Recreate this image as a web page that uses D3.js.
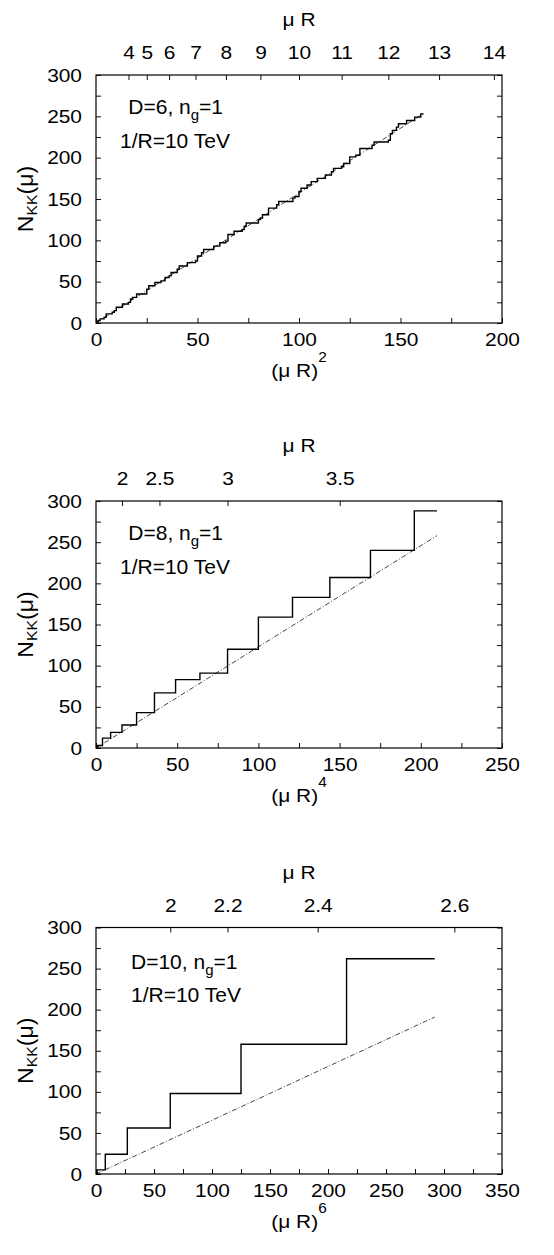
<!DOCTYPE html>
<html><head><meta charset="utf-8">
<script src="https://cdn.jsdelivr.net/npm/d3@7"></script>
<style>
body{margin:0;background:#fff}
svg text{font-family:"Liberation Sans",Arial,Helvetica,sans-serif;fill:#000}
</style></head><body>
<svg id="c" width="554" height="1255"></svg>
<script>
// ---------- DATA ----------
// D=6 panel: x=(mu R)^2, N_KK staircase
const d6StepX=[0,1,2,4,5,8,9,10,13,16,17,18,20,25,26,29,32,34,36,37,40,41,45,49,50,52,53,58,61,64,65,68,72,73,74,80,81,82,85,89,90,97,98,100,101,104,106,109,113,116,117,121,122,125,128,130,136,137,144,145,146,148,149,153,157,160,161.4];
const d6StepN=[1,3,5,7,11,13,15,19,23,25,29,31,35,41,45,49,51,55,57,61,65,69,73,75,81,85,89,93,97,99,107,111,113,117,121,125,127,131,139,143,147,151,153,159,163,167,171,175,179,183,187,189,193,201,203,211,215,219,221,229,233,237,241,245,249,253,253];
const d6LineX=[0,161.4];
const d6LineN=[0,253.5];
// D=8 panel: x=(mu R)^4
const d8StepX=[0,1,4,9,16,25,36,49,64,81,100,121,144,169,196,210];
const d8StepN=[1,3,12,19,28,43,67,83,91,120,159,183,207,240,288,288];
const d8LineX=[0,210];
const d8LineN=[0,258];
// D=10 panel: x=(mu R)^6
const d10StepX=[0,1,8,27,64,125,216,292];
const d10StepN=[1,5,24,56,98,158,262,262];
const d10LineX=[0,292];
const d10LineN=[0,191];
// tick labels
const muTicks6=[4,5,6,7,8,9,10,11,12,13,14];
const muTicks8=[2,2.5,3,3.5];
const muTicks10=[2,2.2,2.4,2.6];
const xLabels6=[0,50,100,150,200];
const xLabels8=[0,50,100,150,200,250];
const xLabels10=[0,50,100,150,200,250,300,350];
const yLabels=[0,50,100,150,200,250,300];
const dimsD=[6,8,10];
const powers=[2,4,6];
const ngVal=1;
const invR="10 TeV";

// ---------- LAYOUT ----------
const FONT='"Liberation Sans",Arial,Helvetica,sans-serif';
const SX=1.1; // horizontal stretch of axis fonts
const L=96,R=502;
const svg=d3.select("#c");
const layout=[
 {top:75,h:248,l1x:128.3,l2x:120,l1y:38.5,l2y:73.3},
 {top:501,h:247,l1x:128.3,l2x:120,l1y:39,l2y:73},
 {top:927.5,h:246.5,l1x:131,l2x:131,l1y:41.5,l2y:74.2}
];
const series=[
 {xMax:200,stepX:d6StepX,stepN:d6StepN,lineX:d6LineX,lineN:d6LineN,mu:muTicks6,xl:xLabels6},
 {xMax:250,stepX:d8StepX,stepN:d8StepN,lineX:d8LineX,lineN:d8LineN,mu:muTicks8,xl:xLabels8},
 {xMax:350,stepX:d10StepX,stepN:d10StepN,lineX:d10LineX,lineN:d10LineN,mu:muTicks10,xl:xLabels10}
];

function styleAxis(a){
  a.attr("font-size",19).attr("font-family",FONT);
  a.select(".domain").remove();
  a.selectAll(".tick line").attr("stroke","#111").attr("stroke-width",1);
  a.selectAll(".tick text").each(function(){
    const t=d3.select(this); const x=+t.attr("x")||0;
    t.attr("x",x/SX).attr("transform",`scale(${SX},1)`);
  });
}

series.forEach((s,i)=>{
  const lay=layout[i], p=powers[i];
  const top=lay.top, bot=lay.top+lay.h;
  const g=svg.append("g");
  const x=d3.scaleLinear().domain([0,s.xMax]).range([L,R]);
  const y=d3.scaleLinear().domain([0,300]).range([bot,top]);
  const mu=d3.scalePow().exponent(p).domain([0,Math.pow(s.xMax,1/p)]).range([L,R]);

  // smooth (dash-dot) curve
  const lineData=s.lineX.map((v,k)=>[v,s.lineN[k]]);
  g.append("path").datum(lineData)
    .attr("d",d3.line().x(d=>x(d[0])).y(d=>y(d[1])))
    .attr("fill","none").attr("stroke","#444").attr("stroke-width",1)
    .attr("stroke-dasharray","5,2,1,2");
  // staircase
  const stepData=s.stepX.map((v,k)=>[v,s.stepN[k]]);
  g.append("path").datum(stepData)
    .attr("d",d3.line().curve(d3.curveStepAfter).x(d=>x(d[0])).y(d=>y(d[1])))
    .attr("fill","none").attr("stroke","#000").attr("stroke-width",1.4);

  // axes
  const minorX=d3.range(0,s.xMax+1,25);
  const ab=g.append("g").attr("transform",`translate(0,${bot})`)
    .call(d3.axisBottom(x).tickValues(minorX).tickSize(-5).tickSizeOuter(0).tickPadding(10)
      .tickFormat(d=>s.xl.includes(d)?d:""));
  styleAxis(ab);
  const minorY=d3.range(0,301,25);
  const al=g.append("g").attr("transform",`translate(${L},0)`)
    .call(d3.axisLeft(y).tickValues(minorY).tickSize(-5).tickSizeOuter(0).tickPadding(14)
      .tickFormat(d=>yLabels.includes(d)?d:""));
  styleAxis(al);
  const ar=g.append("g").attr("transform",`translate(${R},0)`)
    .call(d3.axisRight(y).tickValues(minorY).tickSize(-5).tickSizeOuter(0).tickFormat(""));
  styleAxis(ar);
  const at=g.append("g").attr("transform",`translate(0,${top})`)
    .call(d3.axisTop(mu).tickValues(s.mu).tickSize(-5).tickSizeOuter(0).tickPadding(16)
      .tickFormat(d=>String(d)));
  styleAxis(at);

  // frame
  g.append("rect").attr("x",L).attr("y",top).attr("width",R-L).attr("height",bot-top)
    .attr("fill","none").attr("stroke","#000").attr("stroke-width",1.2);

  // top title
  g.append("text").attr("transform",`translate(${(L+R)/2},${top-49}) scale(${SX},1)`)
    .attr("text-anchor","middle").attr("font-size",19).text("\u03bc R");
  // bottom title
  const xt=g.append("text").attr("transform",`translate(${(L+R)/2},${bot+54}) scale(${SX},1)`)
    .attr("text-anchor","middle").attr("font-size",19);
  xt.append("tspan").text("(\u03bc R)");
  xt.append("tspan").attr("font-size",14).attr("dy",-15).text(String(p));
  // y title
  const yt=g.append("text").attr("transform",`translate(33,${(top+bot)/2}) rotate(-90) scale(1.05,1)`)
    .attr("text-anchor","middle").attr("font-size",22);
  yt.append("tspan").text("N");
  yt.append("tspan").attr("font-size",15).attr("dy",4).text("KK");
  yt.append("tspan").attr("dy",-4).text("(\u03bc)");
  // annotations
  const t1=g.append("text").attr("x",lay.l1x).attr("y",top+lay.l1y).attr("font-size",21);
  t1.append("tspan").text(`D=${dimsD[i]}, n`);
  t1.append("tspan").attr("font-size",15).attr("dy",6).text("g");
  t1.append("tspan").attr("dy",-6).text(`=${ngVal}`);
  g.append("text").attr("x",lay.l2x).attr("y",top+lay.l2y).attr("font-size",21).text(`1/R=${invR}`);
});
</script>
</body></html>
